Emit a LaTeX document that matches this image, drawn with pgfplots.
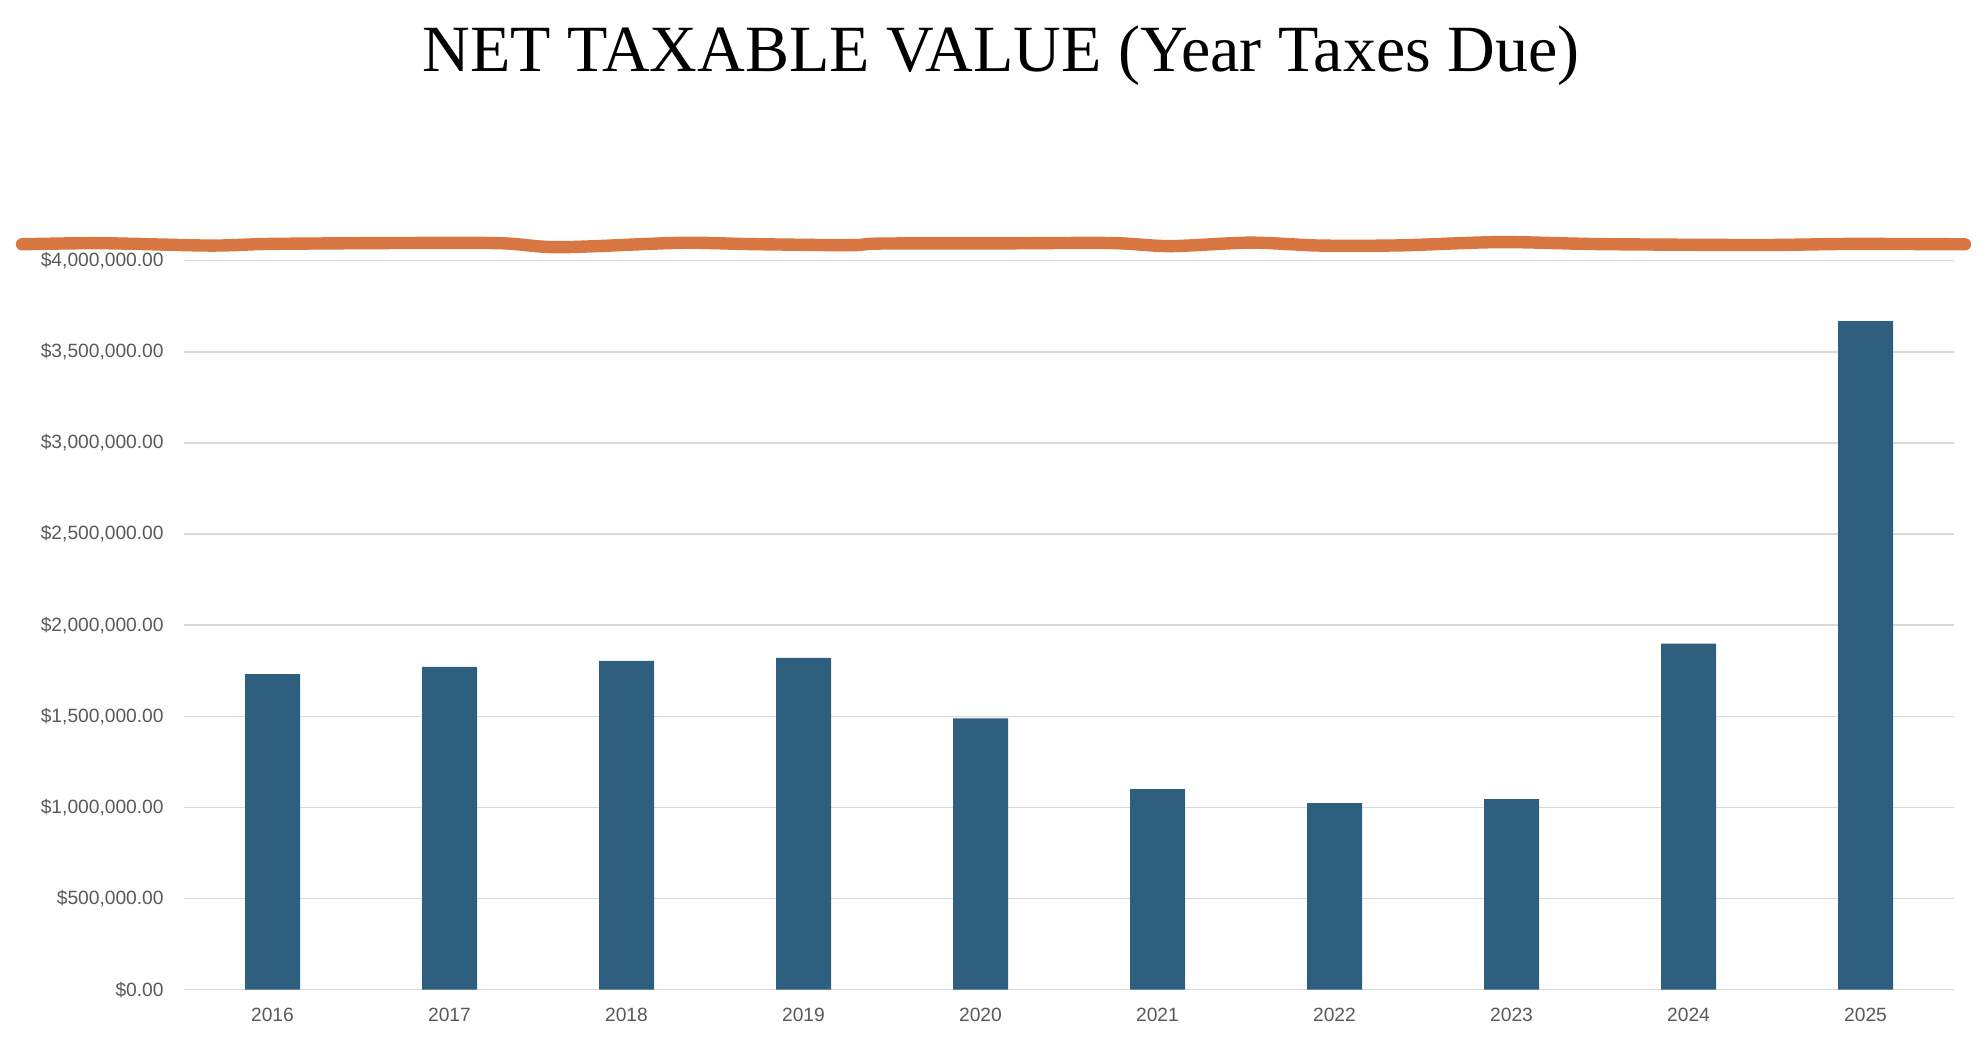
\documentclass[border=0pt]{standalone}
\usepackage{pgfplots}
\pgfplotsset{compat=1.18}
\usepackage{fontspec}
\setmainfont{Liberation Serif}
\newfontfamily\labelfont{Liberation Sans}
\definecolor{barblue}{HTML}{2E5F7F}
\definecolor{pen}{HTML}{D97742}
\definecolor{gridgray}{HTML}{D9D9D9}
\definecolor{ticktext}{HTML}{595959}
\begin{document}
\begin{tikzpicture}
\useasboundingbox (-92pt,-31.15pt) rectangle (901.5pt,494.85pt);
\begin{axis}[
  scale only axis,
  width=885pt, height=364.5pt,
  at={(0,0)}, anchor=south west,
  xmin=-0.5, xmax=9.5,
  ymin=0, ymax=4000000,
  clip=false,
  axis line style={draw=none},
  major tick length=0pt,
  ymajorgrids,
  grid style={gridgray, line width=0.7pt},
  xtick={0,...,9},
  xticklabels={2016,2017,2018,2019,2020,2021,2022,2023,2024,2025},
  ytick={0,500000,1000000,1500000,2000000,2500000,3000000,3500000,4000000},
  yticklabels={{\$0.00},{\$500,000.00},{\$1,000,000.00},{\$1,500,000.00},{\$2,000,000.00},{\$2,500,000.00},{\$3,000,000.00},{\$3,500,000.00},{\$4,000,000.00}},
  scaled y ticks=false,
  xticklabel style={font=\labelfont\fontsize{9.6pt}{11pt}\selectfont, text=ticktext, anchor=base, inner sep=0pt, yshift=-16.15pt},
  yticklabel style={font=\labelfont\fontsize{9.6pt}{11pt}\selectfont, text=ticktext, anchor=east, inner sep=0pt, xshift=-10pt},
]
\addplot[ybar, bar width=27.5pt, fill=barblue, draw=none] coordinates {
  (0,1732000) (1,1771000) (2,1804000) (3,1820000) (4,1488000)
  (5,1101000) (6,1024000) (7,1046000) (8,1899000) (9,3669000)
};
\addplot[pen, line width=6.2pt, line cap=round, smooth, no marks] coordinates {
  (-1.415,4090000) (-0.975,4096000) (-0.353,4083000) (-0.014,4092000)
  (0.720,4097000) (1.285,4096000) (1.624,4074000) (2.302,4098000)
  (2.698,4091000) (3.263,4085000) (3.432,4094000) (4.110,4095000)
  (4.732,4097000) (5.071,4080000) (5.523,4099000) (5.918,4083000)
  (6.370,4084000) (6.935,4102000) (7.500,4091000) (8.404,4086000)
  (8.912,4092000) (9.562,4090000)
};
\end{axis}
\node[anchor=base, inner sep=0pt, font=\fontsize{33pt}{40pt}\selectfont] at (408.5pt,458.9pt) {NET TAXABLE VALUE (Year Taxes Due)};
\end{tikzpicture}
\end{document}
